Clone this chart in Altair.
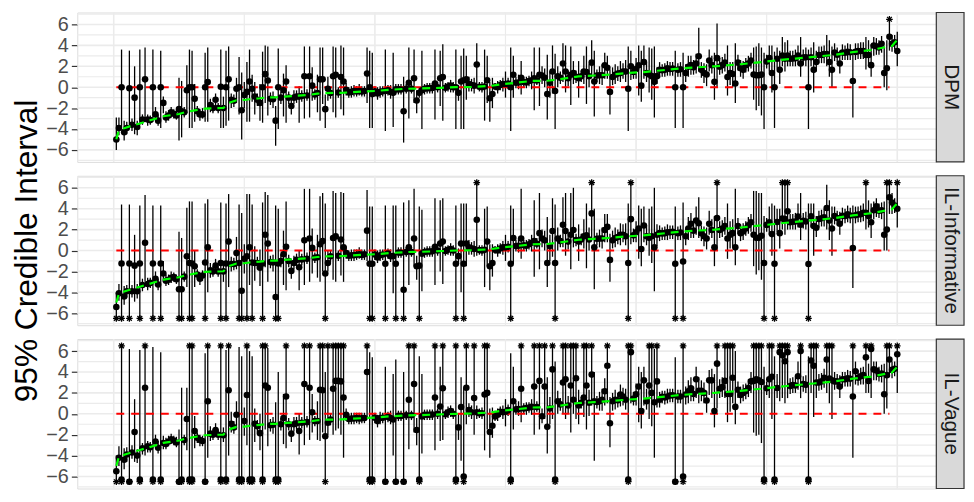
import altair as alt
import pandas as pd

# item order (x axis): items sorted by their true value
rank = list(range(1, 301))

# true values (green dashed line), vertices
true_rank = [1, 2, 4, 7, 10, 14, 16, 19, 21, 25, 27, 30, 32, 35, 38, 42, 44, 47, 50, 52,
             56, 59, 62, 65, 68, 72, 75, 78, 81, 87, 95, 100, 106, 112, 118, 125, 131, 137, 144, 149,
             154, 160, 166, 171, 178, 184, 190, 197, 203, 211, 217, 223, 230, 240, 248, 254, 261, 268, 276, 283,
             290, 296, 298, 299, 300]
true_val = [-4.98, -4.1, -3.92, -3.68, -3.47, -3.17, -3.02, -2.78, -2.71, -2.56, -2.41, -2.26, -2.17, -2.05, -2.02, -1.99, -1.51, -1.25, -1.22, -1.15,
            -1.06, -0.97, -0.97, -0.9, -0.85, -0.78, -0.72, -0.62, -0.56, -0.54, -0.42, -0.36, -0.24, -0.15, -0.12, -0.06, 0.0, 0.03, 0.12, 0.3,
            0.42, 0.6, 0.62, 0.78, 1.03, 1.12, 1.21, 1.36, 1.45, 1.65, 1.8, 1.9, 2.0, 2.2, 2.4, 2.57, 2.74, 2.9, 3.1, 3.36,
            3.56, 3.85, 3.95, 4.25, 4.5]

null_start, null_end, null_value = 1, 297, 0.0

# ---------------- DPM ----------------
dpm_est = [
    -5.0, -3.9, 0.0, -4.3, -3.9, -0.1, -3.6, -1.0, -3.8, 0.0,
    -3.1, 0.75, -3.1, -3.15, 0.0, -2.6, -3.2, 0.0, -1.5, -2.9,
    -2.7, -2.4, -2.55, -2.7, -2.1, -2.3, -2.4, -0.3, 0.0, 0.0,
    -1.1, -2.3, -2.6, -2.6, 0.0, 0.5, -1.7, -2.0, -1.2, -2.0,
    0.05, -2.0, 0.0, 0.75, -1.2, -1.3, -0.15, 0.0, -2.2, -0.75,
    -0.45, 0.55, -0.15, -0.9, -1.2, -1.5, 0.0, 1.25, 0.65, -1.1,
    -1.15, -3.2, 0.0, -1.0, -0.3, 0.55, -1.0, -1.8, -1.0, -0.9,
    -0.9, -0.85, 1.05, -0.8, 1.05, 0.15, -0.7, -0.55, 0.75, 0.75,
    -2.1, -0.15, -0.55, 1.05, 1.2, -0.5, 0.97, 0.55, -0.24, -0.5,
    -0.45, -0.36, -0.4, -0.36, -0.42, -0.36, 1.3, 0.0, -0.66, -0.38,
    -0.6, -0.45, -0.38, -0.36, -0.3, -0.45, -0.54, -0.21, -0.2, -0.22,
    -2.3, -0.15, 0.42, -0.14, 0.85, -1.27, -0.54, -0.3, -0.15, -0.1,
    -0.09, -0.07, 0.36, 0.0, 0.85, 0.97, -0.05, 0.06, 0.15, 0.0,
    0.0, -0.54, 0.55, 0.66, 0.75, 0.3, 0.21, 0.15, 2.17, 0.05,
    0.0, 0.06, 0.66, -1.06, -0.66, 0.06, 0.0, 0.2, 0.3, 0.3,
    0.35, 0.0, 1.2, 0.42, 0.45, 0.9, 0.5, 0.45, 0.6, 0.66,
    0.85, 0.65, 1.2, 1.12, 0.9, -0.66, 0.42, 1.51, -0.36, 1.05,
    0.9, 2.26, 1.51, 0.85, 1.2, 1.36, 1.0, 0.85, 1.05, 1.51,
    1.45, 1.05, 2.35, 0.55, 1.12, 1.15, 1.15, 2.1, 1.87, -0.45,
    0.97, 1.2, 1.3, 1.36, 1.51, 1.51, -0.15, 2.0, 1.45, 1.75,
    2.1, 0.15, 2.4, 1.36, 1.21, 1.06, 0.51, 1.06, 1.66, 1.62,
    1.66, 1.81, 1.75, 1.78, 0.0, 1.66, 1.72, 0.0, 1.36, 1.96,
    2.11, 1.9, 2.26, 2.96, 1.66, 1.36, 1.21, 2.56, 2.11, 0.51,
    2.78, 1.96, 2.11, 2.35, 0.97, 1.36, 1.27, 0.36, 2.35, 1.81,
    1.66, 2.11, 2.26, 2.56, 1.21, 1.15, 1.15, 1.21, 0.0, 2.45,
    2.78, 1.36, 0.0, 2.72, 1.66, 3.02, 2.72, 3.02, 2.72, 2.75,
    2.78, 3.02, 2.26, 2.85, 2.87, 0.0, 2.87, 1.66, 2.41, 3.08,
    3.08, 3.17, 3.17, 2.41, 1.66, 3.32, 3.1, 2.26, 3.32, 3.3,
    3.38, 3.35, 0.6, 3.38, 3.45, 3.47, 3.47, 3.08, 3.08, 2.11,
    3.98, 3.92, 3.8, 4.16, 1.36, 1.81, 4.83, 4.16, 4.3, 3.47]
dpm_lo = [
    -6.0, -4.6, -3.8, -5.1, -4.5, -3.5, -4.2, -4.5, -4.6, -3.6,
    -3.6, -3.3, -3.7, -3.6, -3.3, -3.2, -3.7, -3.9, -2.5, -3.4,
    -3.2, -2.9, -3.0, -3.1, -5.1, -4.8, -2.9, -2.5, -3.9, -3.9,
    -3.3, -2.8, -3.2, -3.0, -3.3, -3.3, -2.4, -2.5, -1.9, -2.5,
    -3.9, -3.9, -3.7, -3.2, -2.0, -1.9, -1.5, -2.6, -5.0, -2.0,
    -3.3, -3.3, -1.4, -2.6, -1.8, -3.2, -3.4, -1.5, -2.7, -1.7,
    -2.0, -5.6, -4.0, -1.6, -2.8, -3.4, -1.6, -2.6, -1.6, -1.5,
    -3.4, -1.4, -3.0, -1.3, -2.9, -1.3, -1.2, -2.4, -3.2, -1.6,
    -3.9, -1.3, -1.1, -2.4, -2.9, -1.0, -2.1, -2.7, -0.8, -1.0,
    -1.0, -0.9, -0.9, -0.8, -0.9, -0.9, -1.5, -3.9, -3.9, -0.9,
    -1.2, -1.0, -0.9, -4.2, -0.8, -1.1, -3.8, -0.7, -0.7, -0.7,
    -5.3, -0.6, -3.0, -0.6, -1.5, -2.5, -1.0, -4.0, -0.7, -0.6,
    -0.6, -0.6, -3.1, -0.5, -1.8, -3.2, -0.5, -0.4, -0.5, -0.5,
    -4.0, -1.3, -4.0, -4.0, -1.2, -0.4, -0.4, -0.6, 0.0, -0.4,
    -0.5, -3.2, -1.5, -3.3, -2.0, -0.3, -0.6, -0.3, -0.4, -1.0,
    -0.2, -4.2, -1.0, -0.1, -0.2, -0.7, 0.0, -0.1, 0.1, -0.2,
    -2.2, 0.2, -1.8, 0.3, 0.0, -3.1, -1.0, -0.6, -4.0, 0.0,
    0.3, 0.5, -0.5, 0.1, -1.7, 0.3, 0.4, -1.0, 0.5, 0.3,
    -1.6, 0.0, 1.0, -2.8, 0.5, 0.3, 0.2, 0.8, 0.8, -2.6,
    0.2, 0.3, 0.6, 0.5, 0.8, 0.5, -4.2, 0.7, 0.8, 0.8,
    -0.8, -1.4, 0.8, 0.5, -0.5, -1.2, -2.9, 0.3, 0.9, 1.0,
    1.0, 1.1, 1.1, 1.1, -3.9, 1.0, 1.0, -3.9, 0.5, 1.0,
    1.2, 1.2, 1.3, 1.5, 0.9, 0.4, 0.1, 1.5, 1.3, -1.2,
    0.0, 1.2, 1.3, 1.5, -0.8, 0.2, 0.0, -1.5, 1.6, 1.0,
    0.8, 1.4, 1.5, 1.8, -1.2, -2.2, -1.8, -2.7, -4.0, 1.8,
    1.5, -0.5, -3.9, 1.8, 0.3, 2.0, 1.5, 2.0, 2.0, 2.0,
    2.0, 2.1, 1.0, 2.1, 2.0, -4.0, 2.0, -0.5, 1.5, 2.3,
    2.3, 2.3, 2.0, 1.0, 0.0, 2.5, 2.4, 1.3, 2.6, 2.6,
    2.6, 2.6, -2.9, 2.6, 2.7, 2.7, 2.7, 1.7, 2.0, 1.0,
    3.0, 3.1, 3.1, 3.3, 0.0, -0.3, 3.5, 3.4, 3.6, 2.0]
dpm_hi = [
    -2.9, -2.9, 3.6, -3.2, -3.3, 3.5, -3.0, 2.0, -3.2, 3.6,
    -2.6, 3.8, -2.6, -2.7, 3.6, -1.9, -2.6, 3.5, -0.9, -2.3,
    -2.2, -1.9, -2.1, -2.2, 0.9, 0.6, -1.9, 2.1, 3.6, 3.5,
    0.3, -1.8, -2.1, -2.0, 3.3, 3.8, -1.1, -1.5, -0.6, -1.5,
    3.6, -0.9, 3.5, 3.9, -0.6, -0.7, 0.9, 2.9, 1.4, 0.5,
    2.4, 3.6, 1.2, 0.5, -0.6, 0.3, 3.4, 4.0, 3.9, -0.5,
    -0.4, -1.8, 3.7, -0.4, 1.3, 2.1, -0.4, -1.2, -0.3, -0.3,
    0.1, -0.3, 3.9, -0.2, 3.9, 1.9, -0.2, 1.2, 3.8, 3.8,
    -0.7, 1.0, 0.0, 3.9, 3.8, 0.0, 4.0, 3.8, 0.4, 0.0,
    0.1, 0.2, 0.1, 0.3, 0.1, 0.1, 3.8, 3.5, 3.3, 0.1,
    0.0, 0.1, 0.1, 3.6, 0.2, 0.2, 3.3, 0.3, 0.3, 0.3,
    1.0, 0.3, 3.8, 0.3, 3.6, -0.3, 0.0, 3.5, 0.3, 0.4,
    0.4, 0.4, 3.6, 0.5, 3.5, 4.1, 0.4, 0.5, 0.7, 0.5,
    3.6, 0.2, 3.0, 3.7, 3.0, 1.0, 0.8, 0.9, 4.2, 0.5,
    0.5, 3.6, 3.0, 0.5, 0.9, 0.4, 0.6, 0.7, 0.9, 1.5,
    0.9, 3.8, 3.0, 1.0, 1.2, 2.5, 1.0, 1.0, 1.1, 1.5,
    3.8, 1.2, 3.8, 2.0, 1.8, 3.1, 1.5, 4.0, 3.2, 2.0,
    1.5, 4.2, 4.0, 1.6, 3.9, 2.5, 1.6, 2.5, 1.6, 3.0,
    3.9, 2.2, 4.5, 3.5, 1.7, 2.0, 2.2, 3.3, 3.0, 1.7,
    1.9, 2.2, 2.0, 2.5, 2.3, 2.6, 3.9, 3.5, 2.1, 2.8,
    4.0, 3.5, 4.0, 2.4, 3.8, 3.7, 3.9, 1.9, 2.4, 2.2,
    2.3, 2.5, 2.4, 2.4, 3.5, 2.3, 2.4, 3.3, 2.2, 3.0,
    3.0, 2.6, 3.2, 5.7, 2.4, 2.3, 2.2, 3.6, 3.0, 3.3,
    6.1, 2.8, 2.9, 3.2, 4.0, 2.4, 2.4, 4.2, 3.1, 2.6,
    2.5, 2.8, 3.0, 3.3, 3.8, 3.9, 4.2, 3.8, 3.3, 3.1,
    4.0, 4.0, 3.4, 3.8, 3.5, 4.8, 4.3, 4.5, 3.5, 3.5,
    3.6, 4.0, 4.8, 3.6, 3.8, 3.6, 3.8, 4.3, 3.5, 3.9,
    3.9, 4.0, 5.0, 4.5, 3.9, 4.2, 3.8, 3.5, 4.1, 4.0,
    4.2, 4.1, 3.5, 4.2, 4.2, 4.3, 4.3, 4.8, 4.5, 4.1,
    4.8, 4.7, 4.5, 4.9, 3.9, 4.5, 6.5, 5.0, 5.0, 5.3]

# ---------------- IL-Informative ----------------
ili_est = [
    -5.4, -4.1, -1.25, -4.4, -3.9, -1.25, -3.9, -1.45, -3.9, -1.25,
    -3.3, 0.75, -3.2, -3.1, -1.25, -2.7, -3.25, -1.25, -2.2, -2.9,
    -2.8, -2.6, -2.55, -2.75, -3.7, -3.7, -2.5, -0.55, -1.2, -1.25,
    -1.5, -2.3, -2.7, -2.4, -1.15, 0.3, -1.9, -2.0, -1.45, -2.0,
    -1.2, -2.0, -1.25, 0.85, -1.3, -1.3, -0.25, -1.2, -3.85, -0.8,
    -0.55, 0.3, -1.15, -1.2, -1.2, -1.65, -1.25, 1.5, 0.66, -1.1,
    -1.15, -4.45, -1.25, -1.0, -0.36, 0.36, -1.0, -1.95, -1.2, -0.9,
    -1.6, -0.85, 0.97, -0.8, 1.15, 0.25, -0.7, -0.65, 0.6, 0.9,
    -2.2, -1.2, -0.55, 1.2, 1.35, -0.5, 1.05, 0.3, -0.24, -0.5,
    -0.45, -0.45, -0.4, -0.36, -0.42, -0.36, 1.9, -1.27, -1.27, -0.38,
    -0.66, -0.45, -0.38, -1.27, -0.3, -0.54, -0.54, -1.27, -0.2, -0.22,
    -3.75, -0.15, 0.3, -0.14, 1.15, -1.5, -1.45, -0.3, -0.15, -0.1,
    -0.09, -0.07, 0.36, 0.0, 0.66, 0.85, -0.05, 0.06, 0.15, 0.0,
    -1.27, -0.54, 0.66, -1.27, 0.66, 0.3, 0.21, 0.15, 2.95, 0.05,
    0.0, 0.06, 0.85, -1.5, -1.2, 0.06, 0.0, 0.2, 0.3, 0.3,
    0.35, -1.27, 1.2, 0.42, 0.45, 1.15, 0.5, 0.45, 0.6, 0.75,
    0.9, 0.65, 1.66, 1.15, 0.97, -1.2, 0.42, 1.87, -1.2, 1.15,
    0.9, 2.47, 1.87, 0.85, 1.5, 1.96, 1.0, 0.85, 1.05, 1.36,
    1.45, 1.05, 3.55, 0.3, 1.12, 1.15, 1.15, 1.96, 2.26, -0.9,
    0.97, 1.2, 1.3, 1.5, 1.51, 1.36, -1.2, 3.0, 1.45, 1.75,
    2.1, 0.15, 2.4, 1.36, 1.21, 1.36, 0.3, 1.5, 1.66, 1.62,
    1.66, 1.75, 1.75, 1.78, -1.27, 1.66, 1.72, -1.05, 1.36, 2.1,
    2.56, 1.9, 2.86, 2.6, 1.66, 1.36, 1.15, 2.56, 1.96, 0.3,
    3.1, 1.96, 2.11, 2.35, 1.15, 1.51, 1.66, 0.3, 2.35, 1.66,
    1.81, 2.11, 2.41, 2.71, 1.51, 1.21, 1.21, 1.42, -1.2, 2.45,
    2.71, 1.57, -1.27, 2.72, 1.66, 3.07, 3.0, 3.76, 2.71, 2.75,
    2.77, 3.25, 2.47, 2.85, 2.77, -1.3, 3.28, 2.35, 2.17, 3.01,
    3.08, 3.17, 4.07, 2.86, 2.1, 3.31, 3.1, 2.56, 3.32, 3.3,
    3.46, 3.35, 0.24, 3.37, 3.45, 3.46, 3.61, 3.61, 3.31, 2.71,
    3.85, 4.22, 3.8, 3.85, 1.51, 2.0, 5.1, 4.6, 4.3, 4.0]
ili_lo = [
    -6.5, -4.8, -6.5, -5.2, -4.5, -6.5, -4.5, -4.9, -4.6, -6.5,
    -3.9, -3.0, -3.8, -3.6, -6.5, -3.4, -3.8, -6.5, -3.0, -3.4,
    -3.3, -3.1, -3.0, -3.2, -6.5, -6.5, -3.0, -3.5, -6.5, -6.5,
    -3.5, -2.8, -3.3, -2.9, -6.5, -4.0, -2.6, -2.5, -2.1, -2.5,
    -6.5, -3.0, -6.5, -3.5, -2.0, -1.9, -1.8, -6.5, -6.5, -2.2,
    -6.5, -3.3, -6.5, -2.9, -1.8, -3.4, -6.5, -1.6, -3.0, -1.7,
    -2.0, -6.5, -6.5, -1.6, -3.3, -3.8, -1.6, -2.7, -1.8, -1.5,
    -3.8, -1.4, -3.3, -1.3, -3.0, -2.2, -1.2, -2.6, -3.0, -2.0,
    -6.5, -2.0, -1.1, -2.8, -3.0, -1.0, -2.4, -3.0, -0.8, -1.0,
    -1.0, -1.0, -0.9, -0.8, -0.9, -0.9, -1.0, -6.5, -6.5, -0.9,
    -1.2, -1.0, -0.9, -6.5, -0.8, -1.1, -4.1, -6.5, -0.7, -0.7,
    -6.5, -0.6, -3.3, -0.6, -1.5, -2.8, -6.5, -3.9, -0.7, -0.6,
    -0.6, -0.6, -3.3, -0.5, -2.0, -3.2, -0.5, -0.4, -0.5, -0.5,
    -6.5, -1.3, -4.0, -6.5, -1.5, -0.4, -0.4, -0.6, -0.5, -0.4,
    -0.5, -3.5, -1.5, -3.8, -2.5, -0.3, -0.6, -0.3, -0.4, -1.0,
    -0.2, -6.5, -1.3, -0.1, -0.2, -0.8, 0.0, -0.1, 0.1, -0.1,
    -2.5, 0.2, -1.8, 0.3, 0.0, -3.5, -1.0, -0.6, -6.5, 0.0,
    0.3, 0.3, -0.5, 0.1, -1.8, 0.3, 0.4, -1.0, 0.5, 0.2,
    -1.7, 0.0, 1.0, -3.7, 0.5, 0.3, 0.2, 0.8, 0.8, -3.0,
    0.2, 0.3, 0.6, 0.5, 0.8, 0.5, -6.5, 0.6, 0.8, 0.8,
    -0.8, -1.5, 0.8, 0.5, -0.5, -1.2, -3.9, 0.4, 0.9, 1.0,
    1.0, 1.0, 1.1, 1.1, -6.5, 1.0, 1.0, -6.5, 0.5, 1.0,
    1.2, 1.2, 1.5, 1.2, 0.9, 0.4, 0.1, 1.5, 1.2, -1.5,
    0.0, 1.2, 1.3, 1.5, -0.8, 0.2, 0.3, -1.4, 1.6, 0.9,
    1.0, 1.4, 1.6, 1.8, -1.5, -2.3, -1.9, -2.8, -6.5, 1.8,
    1.5, -0.5, -6.5, 1.8, 0.2, 2.0, 1.5, 2.0, 2.0, 2.0,
    2.0, 2.2, 1.0, 2.1, 2.0, -6.5, 2.2, -0.5, 1.3, 2.2,
    2.3, 2.3, 2.0, 1.0, -0.5, 2.5, 2.4, 1.5, 2.6, 2.6,
    2.7, 2.6, -3.6, 2.6, 2.7, 2.7, 2.8, 2.0, 2.2, 1.2,
    3.0, 3.2, 3.1, 3.0, 0.0, 0.0, 3.5, 3.5, 3.6, 2.2]
ili_hi = [
    -4.0, -3.2, 4.4, -3.4, -3.3, 4.4, -3.3, 1.5, -3.2, 4.3,
    -2.7, 5.3, -2.6, -2.6, 4.3, -2.0, -2.7, 4.3, -1.0, -2.3,
    -2.3, -2.0, -2.1, -2.3, 1.8, 1.2, -2.0, 4.1, 4.7, 4.7,
    0.0, -1.8, -2.1, -1.9, 4.5, 4.9, -1.2, -1.5, -0.8, -1.5,
    4.6, -1.0, 4.5, 5.4, -0.6, -0.7, 1.3, 4.4, 3.6, 0.6,
    5.4, 5.4, 4.4, 0.4, -0.6, 0.1, 4.6, 5.6, 5.3, -0.5,
    -0.4, 4.3, 4.0, -0.4, 1.9, 4.7, -0.4, -1.2, -0.5, -0.3,
    0.0, -0.3, 5.9, -0.2, 5.9, 2.1, -0.2, 1.5, 5.2, 5.5,
    4.5, 0.0, 0.0, 5.7, 5.5, 0.0, 5.6, 5.5, 0.4, 0.0,
    0.1, 0.1, 0.1, 0.3, 0.1, 0.1, 5.8, 4.2, 4.2, 0.1,
    0.0, 0.1, 0.1, 4.3, 0.2, 0.1, 4.3, 4.3, 0.3, 0.3,
    4.6, 0.3, 4.8, 0.3, 5.9, -0.5, 4.2, 3.9, 0.3, 0.4,
    0.4, 0.4, 5.0, 0.5, 4.8, 5.0, 0.4, 0.5, 0.7, 0.5,
    4.3, 0.2, 4.5, 4.5, 4.5, 1.0, 0.8, 0.9, 6.5, 0.5,
    0.5, 4.0, 4.2, 0.6, 0.6, 0.4, 0.6, 0.7, 0.9, 1.5,
    0.9, 4.3, 4.0, 1.0, 1.2, 5.9, 1.0, 1.0, 1.1, 1.5,
    4.8, 1.2, 5.5, 2.0, 1.9, 3.2, 1.5, 5.0, 4.4, 2.2,
    1.5, 5.1, 5.5, 1.6, 5.5, 6.0, 1.6, 2.5, 1.6, 3.0,
    4.5, 2.2, 6.5, 4.0, 1.7, 2.0, 2.2, 3.5, 3.5, 1.6,
    1.9, 2.2, 2.0, 2.6, 2.5, 2.6, 4.5, 6.5, 2.1, 2.8,
    4.3, 4.0, 4.2, 2.4, 4.0, 4.2, 6.0, 2.5, 2.4, 2.2,
    2.3, 2.5, 2.4, 2.4, 4.2, 2.3, 2.4, 4.6, 2.2, 3.2,
    3.6, 2.6, 4.2, 5.1, 2.4, 2.3, 2.2, 3.8, 3.0, 3.3,
    6.5, 2.8, 2.9, 3.2, 4.5, 2.8, 3.0, 5.9, 3.1, 2.5,
    2.6, 2.8, 3.2, 3.5, 5.7, 5.7, 5.5, 5.5, 3.3, 3.1,
    4.2, 4.5, 4.3, 4.0, 4.0, 6.5, 6.5, 6.5, 3.5, 3.5,
    3.6, 4.5, 5.5, 3.6, 3.7, 4.5, 4.5, 4.5, 3.3, 3.8,
    3.9, 4.0, 6.3, 4.8, 4.2, 4.2, 3.8, 3.7, 4.1, 4.0,
    4.3, 4.1, 4.3, 4.2, 4.2, 4.3, 4.5, 6.5, 4.8, 4.5,
    4.7, 5.0, 4.5, 4.6, 4.7, 6.5, 6.5, 5.5, 5.0, 6.5]

# ---------------- IL-Vague ----------------
ilv_est = [
    -5.5, -4.2, -6.3, -4.4, -3.9, -6.5, -3.7, -1.75, -4.0, -6.3,
    -3.3, 2.5, -3.1, -3.2, -6.3, -2.65, -3.25, -6.3, -2.8, -2.9,
    -2.65, -2.45, -2.55, -2.75, -6.5, -6.3, -2.5, -0.5, -6.3, -6.3,
    -1.65, -2.3, -2.5, -2.6, -6.5, 1.2, -1.9, -2.0, -1.55, -2.0,
    -6.3, -2.05, -6.3, 2.25, -0.95, -1.3, -0.1, -6.3, -6.3, -0.7,
    1.8, -6.3, -6.3, -0.95, -1.2, -1.85, -6.3, 2.7, 2.5, -1.1,
    -1.05, -6.3, -6.3, -1.0, -0.4, 1.65, -1.0, -1.9, -1.0, -0.9,
    -1.65, -0.85, 2.85, -0.8, 2.5, 0.15, -0.7, -0.7, 2.3, 2.25,
    -2.15, -0.85, -0.55, 2.4, 3.15, 3.15, 3.1, 1.55, -0.1, -0.5,
    -0.45, -0.45, -0.4, -0.45, -0.42, -0.4, 4.0, -6.3, -6.3, -0.38,
    -0.7, -0.4, -0.38, -6.5, -0.3, -0.4, -0.55, -6.5, -0.2, -0.22,
    -6.5, -0.15, 1.35, -0.14, 2.85, -1.55, -6.3, -0.25, -0.1, -0.1,
    -0.1, -0.07, 1.55, 0.0, 0.7, 2.45, -0.05, 0.15, 0.27, 0.0,
    -6.3, -1.3, 0.65, -6.0, 2.5, 0.36, 0.15, 1.5, 0.15, 0.05,
    0.06, 1.85, 2.0, -1.75, -1.15, -0.25, -0.1, 0.2, 0.15, 0.2,
    0.35, -6.3, 1.2, 0.42, 0.45, 2.4, 0.5, 0.55, 0.6, 0.66,
    2.6, 0.65, 3.15, -0.24, 2.6, -1.25, 0.5, 4.25, -6.3, 1.2,
    0.9, 3.0, 3.3, 0.8, 2.7, 1.35, 3.4, 0.8, 1.05, 1.55,
    2.7, 1.05, 3.75, 1.2, 1.12, 1.2, 1.35, 2.15, 4.6, -0.9,
    1.2, 1.35, 1.3, 1.85, 1.65, 1.35, -6.3, 5.9, 1.45, 1.87,
    2.6, 0.27, 3.2, 1.2, 2.7, 2.0, 1.1, 3.1, 1.35, 1.62,
    1.56, 1.65, 1.75, 1.78, -6.5, 1.65, 1.65, -6.0, 1.85, 2.15,
    2.45, 1.9, 3.3, 2.2, 2.2, 2.0, 1.27, 3.2, 3.2, 0.27,
    4.8, 2.4, 2.55, 3.15, 1.9, 1.9, 3.45, 0.66, 2.3, 1.8,
    2.0, 2.17, 2.47, 3.1, 3.15, 3.3, 3.2, 3.05, -6.3, 2.45,
    3.3, 3.55, -6.3, 2.47, 5.9, 5.6, 5.03, 5.9, 2.65, 2.75,
    2.7, 3.6, 6.0, 2.85, 2.77, -6.3, 5.1, 4.6, 3.0, 3.0,
    3.1, 3.45, 5.2, 3.37, 3.2, 3.1, 3.1, 2.6, 3.3, 3.3,
    3.4, 3.35, 1.65, 4.07, 3.45, 3.6, 3.7, 5.4, 3.15, 6.2,
    4.25, 4.15, 3.8, 3.85, 1.87, 3.7, 5.2, 4.2, 4.3, 5.7]
ilv_lo = [
    -6.5, -5.0, -6.5, -5.3, -4.6, -6.5, -4.3, -4.6, -4.7, -6.5,
    -3.9, -4.0, -3.7, -3.7, -6.5, -3.3, -3.8, -6.5, -3.4, -3.4,
    -3.1, -2.9, -3.0, -3.2, -6.5, -6.5, -3.0, -3.5, -6.5, -6.5,
    -3.3, -2.8, -3.1, -3.1, -6.5, -4.2, -2.6, -2.5, -2.2, -2.5,
    -6.5, -2.7, -6.5, -4.0, -1.8, -1.9, -1.5, -6.5, -6.5, -2.1,
    -3.0, -6.5, -6.5, -2.7, -1.8, -3.5, -6.5, -1.5, -3.1, -1.7,
    -1.9, -6.5, -6.5, -1.6, -2.9, -3.3, -1.6, -2.7, -1.7, -1.5,
    -3.9, -1.4, -3.0, -1.3, -2.5, -1.8, -1.2, -2.5, -2.6, -1.8,
    -6.5, -2.0, -1.1, -2.0, -1.6, -1.4, -2.0, -4.2, -0.7, -1.0,
    -1.0, -1.0, -0.9, -1.0, -0.9, -0.9, -0.5, -6.5, -6.5, -0.9,
    -1.3, -1.0, -0.9, -6.5, -0.8, -1.0, -4.0, -6.5, -0.7, -0.7,
    -6.5, -0.6, -3.4, -0.6, -1.8, -3.0, -6.5, -3.8, -0.6, -0.6,
    -0.6, -0.6, -3.5, -0.5, -2.6, -2.5, -0.5, -0.4, -0.3, -0.5,
    -6.5, -2.5, -4.5, -6.5, -1.0, -0.3, -0.5, -2.0, -0.5, -0.4,
    -0.5, -3.5, -1.5, -4.2, -2.3, -0.7, -0.7, -0.3, -0.5, -1.2,
    -0.2, -6.5, -1.5, -0.1, -0.2, -0.8, 0.0, -0.1, 0.1, -0.1,
    -2.0, 0.2, -1.5, -0.9, -0.5, -3.8, -1.0, -0.5, -6.5, 0.0,
    0.3, 0.0, -0.5, 0.0, -1.8, 0.0, -0.5, -1.0, 0.5, -0.3,
    -1.5, -0.2, 0.8, -4.5, 0.5, 0.3, 0.3, 0.8, 1.0, -3.2,
    0.3, 0.4, 0.6, 0.7, 0.8, 0.4, -6.5, 1.0, 0.8, 0.8,
    -0.8, -1.4, 0.8, 0.4, -0.5, -1.2, -4.2, 0.6, 0.6, 1.0,
    0.9, 1.0, 1.1, 1.1, -6.5, 1.0, 1.0, -6.5, 0.9, 1.0,
    1.2, 1.2, 1.5, 1.0, 1.2, 1.0, 0.1, 1.8, 1.5, -1.3,
    0.5, 1.5, 1.6, 1.5, -0.8, 0.2, 1.0, -1.0, 1.5, 1.0,
    1.2, 1.4, 1.6, 2.0, -1.8, -2.1, -2.0, -2.8, -6.5, 1.8,
    1.5, -0.5, -6.5, 1.5, 1.2, 1.5, 1.0, 1.5, 1.9, 2.0,
    2.0, 2.3, 1.5, 2.1, 2.0, -6.5, 2.0, -0.3, 1.5, 2.2,
    2.3, 2.5, 2.0, 1.0, -0.5, 2.3, 2.4, 1.5, 2.6, 2.6,
    2.6, 2.6, -4.2, 2.8, 2.7, 2.8, 2.8, 2.0, 2.0, 1.5,
    3.2, 3.2, 3.1, 3.0, 0.0, 0.5, 3.5, 3.4, 3.6, 2.0]
ilv_hi = [
    -4.0, -3.1, 6.5, -3.3, -3.2, 6.2, -3.0, 1.4, -3.4, 6.1,
    -2.8, 6.5, -2.6, -2.7, 6.4, -2.0, -2.6, 5.9, -2.1, -2.3,
    -2.1, -1.9, -2.1, -2.2, -1.5, 2.5, -2.0, 2.5, 6.5, 6.5,
    -0.2, -1.8, -2.0, -2.1, 5.8, 6.5, -1.2, -1.5, -0.9, -1.5,
    6.5, -1.3, 6.1, 6.5, 0.2, -0.7, 1.2, 6.4, 5.5, 0.6,
    6.5, 6.0, 5.5, 0.5, -0.6, 0.0, 6.5, 6.5, 6.3, -0.5,
    -0.3, 1.1, 4.0, -0.4, 1.9, 6.5, -0.4, -1.2, -0.3, -0.3,
    0.0, -0.3, 6.5, -0.2, 6.5, 1.9, -0.2, 1.2, 6.5, 6.5,
    4.0, 6.5, 0.0, 6.5, 6.5, 6.5, 6.5, 6.5, 0.5, 0.0,
    0.1, 0.1, 0.1, 0.1, 0.1, 0.1, 6.5, 5.9, 5.4, 0.1,
    -0.1, 0.2, 0.1, 4.5, 0.2, 0.3, 3.8, 5.2, 0.3, 0.3,
    4.0, 0.3, 6.5, 0.3, 6.5, -0.4, 5.5, 3.8, 0.4, 0.4,
    0.4, 0.4, 6.5, 0.5, 4.5, 6.5, 0.4, 0.7, 0.8, 0.5,
    6.5, 0.0, 3.5, 2.5, 6.5, 1.0, 0.8, 6.5, 0.8, 0.5,
    0.6, 6.5, 6.5, 0.5, 0.6, 0.3, 0.5, 0.7, 0.8, 1.4,
    0.9, 5.8, 4.5, 1.0, 1.2, 6.5, 1.0, 1.1, 1.1, 1.4,
    6.5, 1.2, 6.5, 0.5, 6.5, 3.5, 1.6, 6.5, 5.0, 2.2,
    1.5, 6.5, 6.5, 1.7, 6.5, 6.5, 6.5, 2.3, 1.6, 6.5,
    6.5, 2.3, 6.5, 4.0, 1.7, 2.1, 2.4, 3.4, 6.5, 1.6,
    2.0, 2.3, 2.0, 2.8, 2.5, 2.4, 6.5, 6.5, 2.1, 2.9,
    4.5, 4.0, 4.5, 2.4, 6.5, 6.5, 6.2, 6.5, 2.1, 2.2,
    2.2, 2.4, 2.4, 2.4, 5.4, 2.3, 2.3, 6.5, 2.6, 3.2,
    3.5, 2.6, 4.5, 3.5, 3.2, 3.0, 2.2, 4.2, 4.3, 3.8,
    6.5, 3.3, 3.5, 6.5, 6.5, 6.5, 6.5, 6.0, 3.1, 2.6,
    2.8, 2.9, 3.3, 4.0, 6.5, 6.5, 6.5, 6.5, 4.5, 3.1,
    6.5, 6.5, 5.5, 3.8, 6.5, 6.5, 6.5, 6.5, 3.4, 3.5,
    3.5, 5.0, 6.5, 3.6, 3.7, 5.5, 6.5, 6.5, 6.5, 3.8,
    3.9, 4.3, 6.5, 6.5, 6.5, 4.0, 3.8, 3.7, 4.0, 4.0,
    4.2, 4.1, 6.5, 5.0, 4.2, 4.4, 4.5, 6.5, 4.8, 6.5,
    5.0, 5.0, 4.5, 4.7, 4.8, 6.5, 6.5, 5.0, 5.0, 6.5]

panel_names = ["DPM", "IL-Informative", "IL-Vague"]
y_ticks = [-6, -4, -2, 0, 2, 4, 6]
y_minor = [-7, -5, -3, -1, 1, 3, 5, 7]
x_major = [0, 100, 200, 300]
x_minor = [50, 150, 250]
y_title = "95% Credible Interval"

W, H = 868, 151
STRIP_W = 28
FONT = "Liberation Sans"
xs = alt.Scale(domain=[-13.95, 314.95], nice=False, zero=False)
ys = alt.Scale(domain=[-7.15, 7.15], nice=False, zero=False)
STAR = "M-1,0L1,0M0,-1L0,1M-0.72,-0.72L0.72,0.72M-0.72,0.72L0.72,-0.72"


def make_panel(name, est, lo, hi, show_title):
    title = y_title if show_title else None
    yaxis = alt.Axis(values=y_ticks, grid=False, domain=False, ticks=True, tickSize=6,
                     tickColor="#333333", tickWidth=1.2, labelColor="#4d4d4d",
                     labelFontSize=20, labelFont=FONT, labelPadding=3,
                     titleFontSize=32, titleFont=FONT, titleFontWeight="normal",
                     titleColor="black", titlePadding=2)

    def Y(field):
        return alt.Y(field, scale=ys, axis=yaxis, title=title)

    df = pd.DataFrame({"rank": rank, "est": est, "lo": lo, "hi": hi})
    lo_star = df[df["lo"] <= -6.5].assign(ys=-6.5)
    hi_star = df[df["hi"] >= 6.5].assign(ys=6.5)
    stars = pd.concat([lo_star, hi_star])

    gy_major = alt.Chart(pd.DataFrame({"v": y_ticks})).mark_rule(color="#ebebeb", strokeWidth=1.6).encode(y=Y("v:Q"))
    gy_minor = alt.Chart(pd.DataFrame({"v": y_minor})).mark_rule(color="#ebebeb", strokeWidth=1.2).encode(y=Y("v:Q"))
    gx_major = alt.Chart(pd.DataFrame({"v": x_major})).mark_rule(color="#ebebeb", strokeWidth=1.6).encode(
        x=alt.X("v:Q", scale=xs, axis=None))
    gx_minor = alt.Chart(pd.DataFrame({"v": x_minor})).mark_rule(color="#ebebeb", strokeWidth=1.2).encode(
        x=alt.X("v:Q", scale=xs, axis=None))

    bars = alt.Chart(df).mark_rule(color="black", strokeWidth=1.3).encode(
        x=alt.X("rank:Q", scale=xs, axis=None), y=Y("lo:Q"), y2="hi:Q")
    red = alt.Chart(pd.DataFrame({"a": [null_start], "b": [null_end], "v": [null_value]})).mark_rule(
        color="#ff0000", strokeWidth=2, strokeDash=[8, 7]).encode(
        x=alt.X("a:Q", scale=xs, axis=None), x2="b:Q", y=Y("v:Q"))
    dots = alt.Chart(df).mark_circle(color="black", opacity=1, size=44).encode(
        x=alt.X("rank:Q", scale=xs, axis=None), y=Y("est:Q"))
    green = alt.Chart(pd.DataFrame({"r": true_rank, "v": true_val})).mark_line(
        color="#00ff00", strokeWidth=2.2, strokeDash=[8, 6]).encode(
        x=alt.X("r:Q", scale=xs, axis=None), y=Y("v:Q"), order="r:Q")
    star = alt.Chart(stars).mark_point(shape=STAR, filled=False, color="black", strokeWidth=1.3,
                                       size=45, opacity=1).encode(
        x=alt.X("rank:Q", scale=xs, axis=None), y=Y("ys:Q"))

    sdf = pd.DataFrame({"name": [name]})
    strip_box = alt.Chart(sdf).mark_rect(fill="#d9d9d9", stroke="#333333", strokeWidth=1.2).encode(
        x=alt.value(W), x2=alt.value(W + STRIP_W), y=alt.value(0), y2=alt.value(H))
    strip_txt = alt.Chart(sdf).mark_text(angle=90, fontSize=21, font=FONT, color="#1a1a1a",
                                         align="center", baseline="middle").encode(
        text="name:N", x=alt.value(W + 15), y=alt.value(H / 2))

    return alt.layer(gx_minor, gx_major, gy_minor, gy_major, bars, red, dots, green, star,
                     strip_box, strip_txt).properties(width=W, height=H)


p1 = make_panel(panel_names[0], dpm_est, dpm_lo, dpm_hi, False)
p2 = make_panel(panel_names[1], ili_est, ili_lo, ili_hi, True)
p3 = make_panel(panel_names[2], ilv_est, ilv_lo, ilv_hi, False)

chart = alt.vconcat(p1, p2, p3, spacing=14, bounds="flush").properties(
    padding={"left": 2, "top": 0, "right": 0, "bottom": 0}
).configure_view(stroke="#333333", strokeWidth=1.2).configure(background="white")

chart.save("out.html", embed_options={"renderer": "svg", "actions": False})
